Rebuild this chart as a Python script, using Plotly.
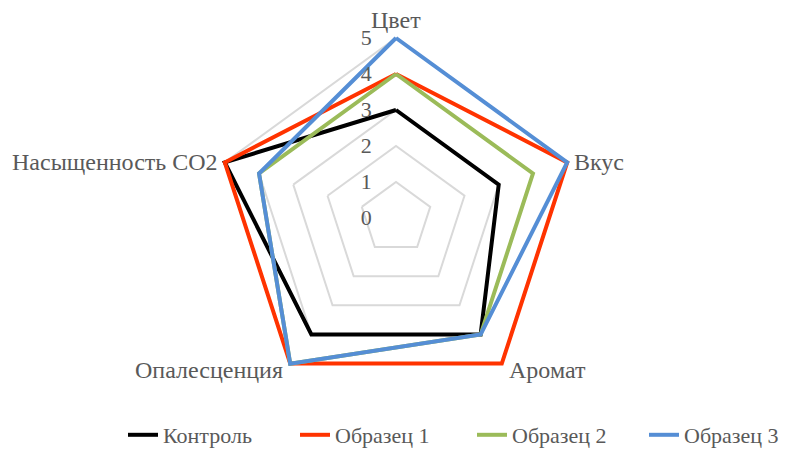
import math
import plotly.graph_objects as go

categories = ["Цвет", "Вкус", "Аромат", "Опалесценция", "Насыщенность CO2"]
control = [3, 3, 4, 4, 5]
sample1 = [4, 5, 5, 5, 5]
sample2 = [4, 4, 4, 5, 4]
sample3 = [5, 5, 4, 5, 4]
radial_ticks = [0, 1, 2, 3, 4, 5]

series = [
    ("Контроль", control, "#000000"),
    ("Образец 1", sample1, "#FF3300"),
    ("Образец 2", sample2, "#9BBB59"),
    ("Образец 3", sample3, "#558ED5"),
]
legend_ids = ["legend", "legend2", "legend3", "legend4"]
legend_x_px = [115, 287, 464, 636]

FONT = "Times New Roman, Liberation Serif, DejaVu Serif, serif"
GREY = "#595959"

fig = go.Figure()
for (name, vals, color), lid in zip(series, legend_ids):
    fig.add_trace(go.Scatterpolar(
        r=vals + vals[:1],
        theta=categories + categories[:1],
        mode="lines",
        name=name,
        line=dict(color=color, width=4),
        cliponaxis=False,
        legend=lid,
    ))

W, H = 791, 450
RMAX = 5.15
cx, cy = 388, 210
R5 = 180
R = R5 * RMAX / 5

# category labels placed beside the outer (value 5) vertices
annotations = []
n = len(categories)
for i, cat in enumerate(categories):
    th = 2 * math.pi * i / n
    vx = cx + R5 * math.sin(th)
    vy = cy - R5 * math.cos(th)
    if abs(math.sin(th)) < 0.1:
        xa, ya, dx, dy = "center", "bottom", 0, -3
    elif math.sin(th) > 0:
        xa, ya, dx, dy = "left", "middle", 5, (6 if math.cos(th) < 0 else 0)
    else:
        xa, ya, dx, dy = "right", "middle", -5, (6 if math.cos(th) < 0 else 0)
    annotations.append(dict(
        text=cat, xref="paper", yref="paper",
        x=(vx + dx) / W, y=(H - vy - dy) / H,
        xanchor=xa, yanchor=ya, showarrow=False,
        font=dict(family=FONT, size=24, color=GREY),
    ))

layout = dict(
    width=W, height=H,
    margin=dict(l=0, r=0, t=0, b=0),
    paper_bgcolor="white",
    plot_bgcolor="white",
    showlegend=True,
    font=dict(family=FONT, size=22, color=GREY),
    annotations=annotations,
    polar=dict(
        domain=dict(x=[(cx - R) / W, (cx + R) / W], y=[(H - cy - R) / H, (H - cy + R) / H]),
        gridshape="linear",
        bgcolor="rgba(0,0,0,0)",
        angularaxis=dict(
            rotation=90, direction="clockwise",
            showline=False, showgrid=False, ticks="", showticklabels=False,
        ),
        radialaxis=dict(
            range=[0, RMAX], tickvals=radial_ticks, angle=90, tickangle=90,
            showline=False, ticks="outside", ticklen=16, tickcolor="rgba(0,0,0,0)",
            gridcolor="#D9D9D9", gridwidth=1.5,
            tickfont=dict(family=FONT, size=22, color=GREY),
            side="counterclockwise",
        ),
    ),
)
for lid, lx in zip(legend_ids, legend_x_px):
    layout[lid] = dict(
        orientation="h", x=lx / W, xanchor="left", y=23 / H, yanchor="middle",
        font=dict(family=FONT, size=22, color=GREY),
        bgcolor="rgba(0,0,0,0)",
    )
fig.update_layout(**layout)

fig.write_html("out.html")
